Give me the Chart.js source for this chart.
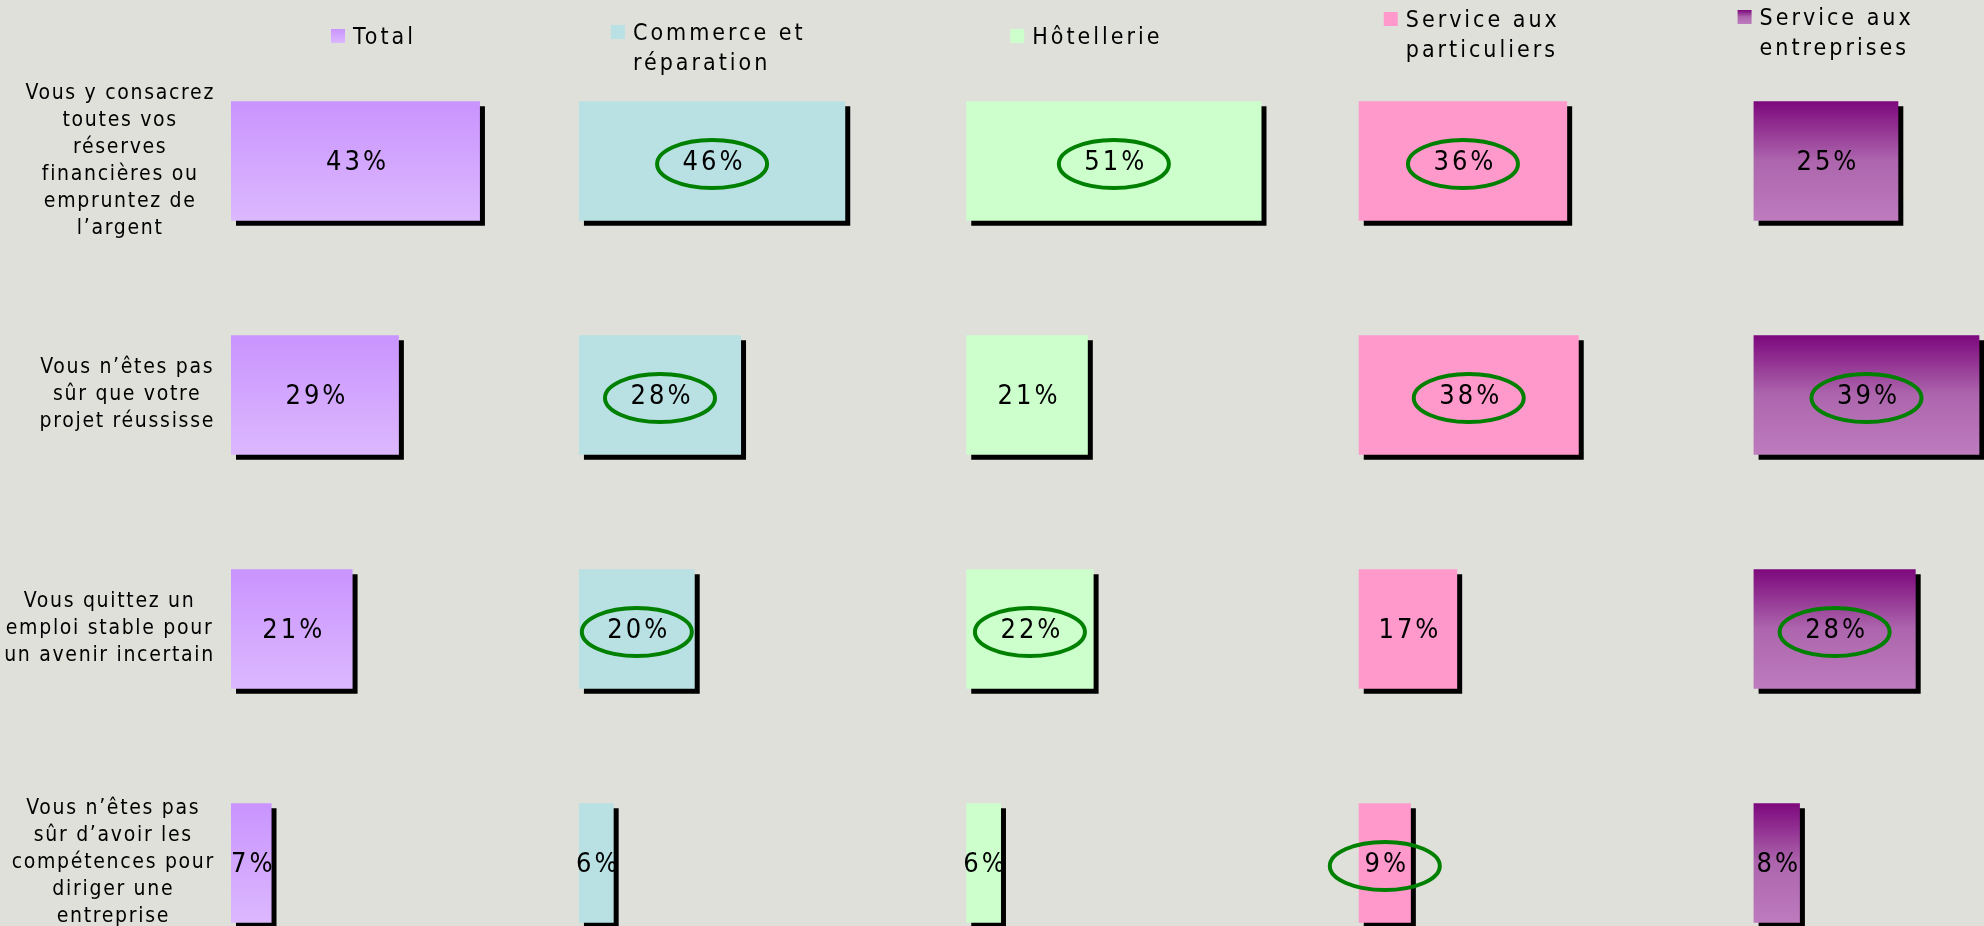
<!DOCTYPE html>
<html>
<head>
<meta charset="utf-8">
<script src="https://cdn.jsdelivr.net/npm/chart.js@4.4.0/dist/chart.umd.min.js"></script>
<style>
  html, body { margin: 0; padding: 0; background: #dfe0da; overflow: hidden; }
  #wrap { width: 1984px; height: 926px; }
</style>
</head>
<body>
<div id="wrap"><canvas id="panelChart" width="1984" height="926"></canvas></div>
<script>
// row labels (one per question)
const questions = [
    ['Vous y consacrez', 'toutes vos', 'réserves', 'financières ou', 'empruntez de', 'l’argent'],
    ['Vous n’êtes pas', 'sûr que votre', 'projet réussisse'],
    ['Vous quittez un', 'emploi stable pour', 'un avenir incertain'],
    ['Vous n’êtes pas', 'sûr d’avoir les', 'compétences pour', 'diriger une', 'entreprise']
];
const seriesNames = [['Total'], ['Commerce et', 'réparation'], ['Hôtellerie'], ['Service aux', 'particuliers'], ['Service aux', 'entreprises']];

const totalValues = [43, 29, 21, 7];
const commerceValues = [46, 28, 20, 6];
const hotellerieValues = [51, 21, 22, 6];
const particuliersValues = [36, 38, 17, 9];
const entreprisesValues = [25, 39, 28, 8];

// which values are circled in green
const totalCircled = [false, false, false, false];
const commerceCircled = [true, true, true, false];
const hotellerieCircled = [true, false, true, false];
const particuliersCircled = [true, true, false, true];
const entreprisesCircled = [false, true, true, false];

// layout / style
const FONT = "'Liberation Sans Narrow', 'DejaVu Sans Condensed', sans-serif";
const colSpan = [60.1, 66.9, 67.8, 68.2, 39.8];          // width of each panel, in % units
const legendPos = [[100, 38], [32, 34], [44, 38], [25, 21], [-16, 19]]; // offset from panel start
const BAR_PCT = 0.51;
const fills = [
    [[0, '#c994fe'], [1, '#dcb8fe']],
    [[0, '#b9e0e3'], [1, '#b9e0e3']],
    [[0, '#ccffcc'], [1, '#ccffcc']],
    [[0, '#ff99cc'], [1, '#ff99cc']],
    [[0, '#7d087d'], [0.5, '#ad66ad'], [1, '#be7bbe']]
];

const allValues = [totalValues, commerceValues, hotellerieValues, particuliersValues, entreprisesValues];
const allCircled = [totalCircled, commerceCircled, hotellerieCircled, particuliersCircled, entreprisesCircled];

function barFill(context, stops) {
    const chart = context.chart;
    if (!chart.chartArea || context.type !== 'data') return stops[0][1];
    const yScale = chart.scales.y;
    const y = yScale.getPixelForValue(context.dataIndex);
    const half = (yScale.getPixelForValue(1) - yScale.getPixelForValue(0)) * BAR_PCT / 2;
    const g = chart.ctx.createLinearGradient(0, y - half, 0, y + half);
    stops.forEach(([o, c]) => g.addColorStop(o, c));
    return g;
}

const datasets = allValues.map((vals, i) => ({
    label: seriesNames[i].join(' '),
    data: vals,
    circled: allCircled[i],
    xAxisID: 'x' + i,
    backgroundColor: ctx => barFill(ctx, fills[i]),
    borderWidth: 0,
    clip: false
}));

const scales = {
    y: { type: 'category', offset: false, display: false }
};
colSpan.forEach((span, i) => {
    scales['x' + i] = {
        type: 'linear', position: 'bottom', stack: 'cols', stackWeight: span,
        min: 0, max: span, display: false
    };
});

// black drop shadow behind bars + value labels + ellipses
const barDecor = {
    id: 'barDecor',
    beforeDatasetsDraw(chart) {
        const ctx = chart.ctx;
        ctx.save();
        ctx.shadowColor = '#000';
        ctx.shadowOffsetX = 5;
        ctx.shadowOffsetY = 5;
        ctx.shadowBlur = 0;
    },
    afterDatasetsDraw(chart) {
        const ctx = chart.ctx;
        ctx.restore();
        ctx.save();
        ctx.font = '27px ' + FONT;
        ctx.letterSpacing = '3px';
        ctx.textAlign = 'center';
        ctx.textBaseline = 'middle';
        chart.data.datasets.forEach((ds, i) => {
            chart.getDatasetMeta(i).data.forEach((bar, j) => {
                const cx = (bar.x + bar.base) / 2;
                const cy = bar.y;
                ctx.fillStyle = '#000';
                ctx.fillText(ds.data[j] + '%', cx + 2, cy + 2);
                if (ds.circled[j]) {
                    ctx.beginPath();
                    ctx.ellipse(cx, cy + 3, 55, 24, 0, 0, Math.PI * 2);
                    ctx.strokeStyle = '#008000';
                    ctx.lineWidth = 4;
                    ctx.stroke();
                }
            });
        });
        ctx.restore();
    }
};

// question labels to the left, block right-aligned, lines centred
const rowLabels = {
    id: 'rowLabels',
    afterDraw(chart) {
        const ctx = chart.ctx;
        const yScale = chart.scales.y;
        const right = chart.chartArea.left - 16;
        ctx.save();
        ctx.font = '21px ' + FONT;
        ctx.letterSpacing = '1.7px';
        ctx.fillStyle = '#000';
        ctx.textAlign = 'center';
        ctx.textBaseline = 'middle';
        const lh = 27;
        questions.forEach((lines, i) => {
            const y = yScale.getPixelForValue(i);
            const w = Math.max(...lines.map(l => ctx.measureText(l).width));
            const cx = right - w / 2;
            const y0 = y - (lines.length - 1) * lh / 2;
            lines.forEach((l, k) => ctx.fillText(l, cx, y0 + k * lh));
        });
        ctx.restore();
    }
};

// legend placed above each panel
const panelLegend = {
    id: 'panelLegend',
    afterDraw(chart) {
        const ctx = chart.ctx;
        ctx.save();
        ctx.font = '23px ' + FONT;
        ctx.letterSpacing = '3px';
        ctx.textAlign = 'left';
        ctx.textBaseline = 'middle';
        seriesNames.forEach((lines, i) => {
            const x = chart.scales['x' + i].left + legendPos[i][0];
            const y = legendPos[i][1];
            const g = ctx.createLinearGradient(0, y - 9, 0, y + 5);
            fills[i].forEach(([o, c]) => g.addColorStop(o, c));
            ctx.fillStyle = g;
            ctx.fillRect(x, y - 9, 14, 14);
            ctx.fillStyle = '#000';
            lines.forEach((l, k) => ctx.fillText(l, x + 22, y + k * 30));
        });
        ctx.restore();
    }
};

new Chart(document.getElementById('panelChart').getContext('2d'), {
    type: 'bar',
    data: { labels: questions.map(q => q.join(' ')), datasets: datasets },
    options: {
        indexAxis: 'y',
        responsive: false,
        animation: false,
        devicePixelRatio: 1,
        datasets: { bar: { grouped: false, barPercentage: BAR_PCT, categoryPercentage: 1 } },
        layout: { padding: { top: 161, bottom: 63, left: 231, right: 0 } },
        scales: scales,
        plugins: { legend: { display: false }, tooltip: { enabled: false } }
    },
    plugins: [barDecor, rowLabels, panelLegend]
});
</script>
</body>
</html>
